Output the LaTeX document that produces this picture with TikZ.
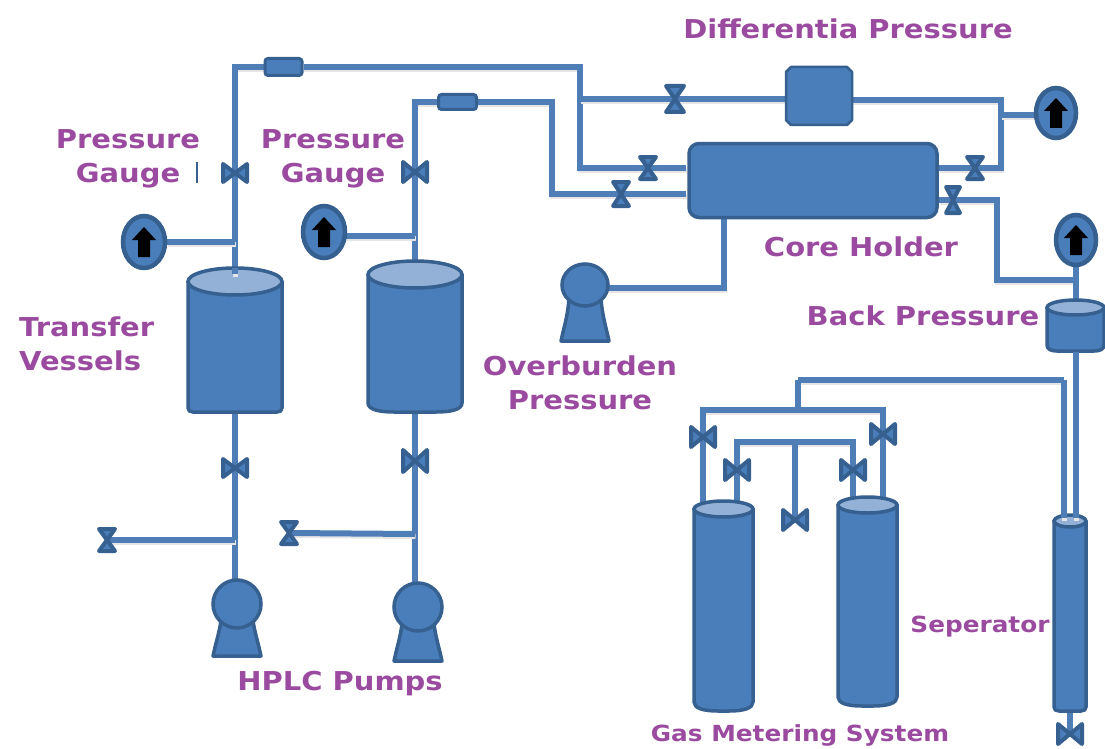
\documentclass[tikz,border=0pt]{standalone}
\usepackage{fontspec}
\setmainfont{DejaVu Sans}[FakeStretch=1.115]
\usetikzlibrary{shapes.geometric,backgrounds}
\definecolor{eqfill}{HTML}{4A7EBB}
\definecolor{eqedge}{HTML}{36608F}
\definecolor{eqtop}{HTML}{93B1D6}
\definecolor{pipecol}{HTML}{4F7DB6}
\definecolor{lblcol}{HTML}{9A4A9F}
\tikzset{
  pipe/.style={draw=pipecol,line width=6pt,line join=miter,
    preaction={draw=black!10,line width=5pt,transform canvas={xshift=0.5pt,yshift=-2.5pt}}},
  eq/.style={draw=eqedge,fill=eqfill,line width=3.5pt,line join=round},
  eqtopface/.style={draw=eqedge,fill=eqtop,line width=3.5pt},
  valveshape/.style={draw=eqedge,fill=eqfill,line width=4pt,line join=round},
  gaugenode/.style={ellipse,draw=eqedge,fill=eqfill,line width=4.5pt,inner sep=0pt,minimum width=#1},
  gaugearrow/.style={fill=black},
  meternode/.style={rectangle,rounded corners=3pt,draw=eqedge,fill=eqfill,line width=3pt,inner sep=0pt},
  lbl/.style={text=lblcol,font=\fontsize{#1}{34}\selectfont\bfseries,inner sep=0pt,align=center},
  tickmark/.style={draw=eqedge,line width=2pt}
}
\newcommand{\ValveTie}[5]{%
  \coordinate (#1) at (#2,#3);
  \path[valveshape] ({#2-#4},{#3-#5}) -- (#2,#3) -- ({#2-#4},{#3+#5}) -- cycle
                    ({#2+#4},{#3-#5}) -- (#2,#3) -- ({#2+#4},{#3+#5}) -- cycle;}
\newcommand{\ValveGlass}[5]{%
  \coordinate (#1) at (#2,#3);
  \path[valveshape] ({#2-#4},{#3-#5}) -- (#2,#3) -- ({#2+#4},{#3-#5}) -- cycle
                    ({#2-#4},{#3+#5}) -- (#2,#3) -- ({#2+#4},{#3+#5}) -- cycle;}
\newcommand{\Cyl}[8]{%
  \coordinate (#1top) at ({(#2+#3)/2},#4);
  \coordinate (#1bot) at ({(#2+#3)/2},#5);
  \path[eq] (#2,{#4+#6/2}) -- (#2,{#5-#8}) .. controls (#2,{#5-#8*0.3}) and ({#2+#7*0.4},#5) .. ({#2+#7},#5)
     -- ({#3-#7},#5) .. controls ({#3-#7*0.4},#5) and (#3,{#5-#8*0.3}) .. (#3,{#5-#8}) -- (#3,{#4+#6/2}) -- cycle;
  \path[eqtopface] ({(#2+#3)/2},{#4+#6/2}) ellipse [x radius={(#3-#2)/2},y radius={#6/2}];}
\newcommand{\Pump}[6]{%
  \path[eq] ({#2-24},#6) .. controls ({#2-21},{#6-14}) and ({#2-17},{#6-26}) .. ({#2-16},{#3+#5-8})
     -- ({#2+16},{#3+#5-8}) .. controls ({#2+17},{#6-26}) and ({#2+21},{#6-14}) .. ({#2+24},#6) -- cycle;
  \node[ellipse,draw=eqedge,fill=eqfill,line width=3.5pt,inner sep=0pt,minimum width={2*#4*1pt},minimum height={2*#5*1pt}] (#1) at (#2,#3) {};}
\newcommand{\Gauge}[5]{%
  \node[gaugenode={2*#4*1pt},minimum height={2*#5*1pt}] (#1) at (#2,#3) {};
  \path[gaugearrow] (#2,{#3-15}) -- ({#2+12},{#3-2}) -- ({#2+6},{#3-2}) -- ({#2+6},{#3+15})
     -- ({#2-6},{#3+15}) -- ({#2-6},{#3-2}) -- ({#2-12},{#3-2}) -- cycle;}
\begin{document}
\begin{tikzpicture}[x=1pt,y=-1pt]
\useasboundingbox (0,0) rectangle (1105,749);

% ---- equipment ----
\Cyl{tvA}{188}{282}{268}{412}{27}{5}{4}
\Cyl{tvB}{368}{462}{261}{412}{27}{26}{9}
\Cyl{gmA}{694}{753}{501}{711}{16}{24}{9}
\Cyl{gmB}{838}{897}{497}{706}{16}{24}{9}
\Cyl{sep}{1054}{1086}{515}{711}{12}{5}{4}
\Cyl{bpr}{1047}{1104}{300}{351}{15}{10}{6}

\Pump{pumpA}{237}{604}{24}{24}{656}
\Pump{pumpB}{418}{607}{24}{24}{661}
\Pump{pumpC}{585}{285}{23}{21}{341}

\Gauge{gaugeA}{144}{242}{21}{26}
\Gauge{gaugeB}{324}{232}{21}{26}
\Gauge{gaugeC}{1056}{113}{20}{25}
\Gauge{gaugeD}{1076}{240}{20}{25}

\node[meternode,minimum width=37pt,minimum height=17pt] (meterA) at (283.5,67) {};
\node[meternode,minimum width=38pt,minimum height=15pt] (meterB) at (457.5,102) {};
\path[eq,line width=2.5pt] (791,67) -- (847,67) -- (852,72) -- (852,120) -- (847,125) -- (791,125) -- (786,120) -- (786,72) -- cycle;
\node[rectangle,rounded corners=10pt,draw=eqedge,fill=eqfill,line width=3.5pt,inner sep=0pt,minimum width=248pt,minimum height=74pt] (core) at (813,180.5) {};

% ---- valves ----
\ValveTie{vA}{235}{173}{12}{9}
\ValveTie{vB}{415}{172}{12}{10}
\ValveTie{vC}{235}{468}{12}{9}
\ValveTie{vD}{415}{461}{12}{11}
\ValveGlass{vE}{107}{540}{8}{11}
\ValveGlass{vF}{289}{533}{8}{11}
\ValveGlass{vG}{675}{99}{9}{13}
\ValveGlass{vH}{648}{168}{8}{11}
\ValveGlass{vI}{621}{194}{8}{12}
\ValveGlass{vJ}{975}{168}{8}{11}
\ValveGlass{vK}{953}{200}{7}{13}
\ValveTie{vL}{703}{437}{12}{10}
\ValveTie{vM}{883}{434}{12}{10}
\ValveTie{vN}{737}{470}{12}{10}
\ValveTie{vO}{853}{470}{12}{10}
\ValveTie{vP}{795}{520}{12}{10}
\ValveTie{vQ}{1070}{734}{12}{10}

% ---- pipe junctions ----
\coordinate (a1) at (235,67);
\coordinate (a2) at (580,67);
\coordinate (a3) at (580,168);
\coordinate (a4) at (580,99);
\coordinate (a5) at (235,242);
\coordinate (tvAin) at (235,274);
\coordinate (b1) at (415,102);
\coordinate (b2) at (552,102);
\coordinate (b3) at (552,194);
\coordinate (b5) at (415,236);
\coordinate (gB) at (340,236);
\coordinate (gC) at (1040,115);
\coordinate (c1) at (1001,100);
\coordinate (c2) at (1001,168);
\coordinate (c3) at (1001,115);
\coordinate (d1) at (997,200);
\coordinate (d2) at (997,280);
\coordinate (d3) at (1076,280);
\coordinate (dpL) at (790,99);
\coordinate (dpR) at (850,100);
\coordinate (pC) at (600,288);
\coordinate (e1) at (724,288);
\coordinate (e2) at (724,218);
\coordinate (f1) at (1064,380);
\coordinate (f2) at (798,380);
\coordinate (f3) at (798,410);
\coordinate (f4) at (703,410);
\coordinate (f5) at (883,410);
\coordinate (g1) at (737,442);
\coordinate (g2) at (853,442);
\coordinate (g3) at (795,442);
\coordinate (h1) at (235,540);
\coordinate (h2) at (415,534);
\coordinate (k1) at (686,168);
\coordinate (k2) at (686,194);
\coordinate (k3) at (939,168);
\coordinate (k4) at (939,200);
\coordinate (m1) at (1064,518);
\coordinate (m2) at (1076,518);
\coordinate (m3) at (1076,352);
\coordinate (bprT) at (1076,301);
\coordinate (gmAa) at (703,503);
\coordinate (gmAb) at (737,503);
\coordinate (gmBa) at (883,499);
\coordinate (gmBb) at (853,499);
\coordinate (pumpAtop) at (235,585);
\coordinate (pumpBtop) at (415,590);
\coordinate (tickA) at (197,162);
\coordinate (tickB) at (197,183);

% ---- pipes, behind the equipment ----
\begin{pgfonlayer}{background}
  \draw[pipe] (tvAtop) -- (vA) -- (a1) -- (meterA) -- (a2) -- (a3) -- (vH) -- (k1);
  \draw[pipe] (a4) -- (vG) -- (dpL);
  \draw[pipe] (gaugeA) -- (a5);
  \draw[pipe] (tvBtop) -- (vB) -- (b1) -- (meterB) -- (b2) -- (b3) -- (vI) -- (k2);
  \draw[pipe] (gB) -- (b5);
  \draw[pipe] (dpR) -- (c1) -- (c2) -- (vJ) -- (k3);
  \draw[pipe] (c3) -- (gC);
  \draw[pipe] (k4) -- (vK) -- (d1) -- (d2) -- (d3);
  \draw[pipe] (gaugeD) -- (bprT);
  \draw[pipe] (pC) -- (e1) -- (e2);
  \draw[pipe] (tvAbot) -- (vC) -- (pumpAtop);
  \draw[pipe] (tvBbot) -- (vD) -- (pumpBtop);
  \draw[pipe] (vE) -- (h1);
  \draw[pipe] (vF) -- (h2);
  \draw[pipe] (f2) -- (f1);
  \draw[pipe] (f2) -- (f3);
  \draw[pipe] (gmAa) -- (vL) -- (f4) -- (f5) -- (vM) -- (gmBa);
  \draw[pipe] (gmAb) -- (vN) -- (g1) -- (g2) -- (vO) -- (gmBb);
  \draw[pipe] (g3) -- (vP);
  \draw[pipe] (sepbot) -- (vQ);
\end{pgfonlayer}
% pipes that run over a vessel's top face
\draw[pipe] (tvAtop) -- (tvAin);
\draw[pipe] (f1) -- (m1);
\draw[pipe] (m3) -- (m2);

\draw[tickmark] (tickA) -- (tickB);

% ---- labels ----
\node[lbl=26] (tDP) at (848,29) {Differentia Pressure};
\node[lbl=26] (tPG1) at (128,159) {Pressure\\Gauge};
\node[lbl=26] (tPG2) at (333,159) {Pressure\\Gauge};
\node[lbl=26,anchor=west,align=left] (tTV) at (19,344) {Transfer\\Vessels};
\node[lbl=26] (tCH) at (861,247) {Core Holder};
\node[lbl=26] (tBP) at (923,316) {Back Pressure};
\node[lbl=26] (tOP) at (580,383) {Overburden\\Pressure};
\node[lbl=26] (tHP) at (340,684) {HPLC Pumps};
\node[lbl=22.2] (tSP) at (980,627) {Seperator};
\node[lbl=22.2] (tGM) at (800,735) {Gas Metering System};
\end{tikzpicture}
\end{document}
